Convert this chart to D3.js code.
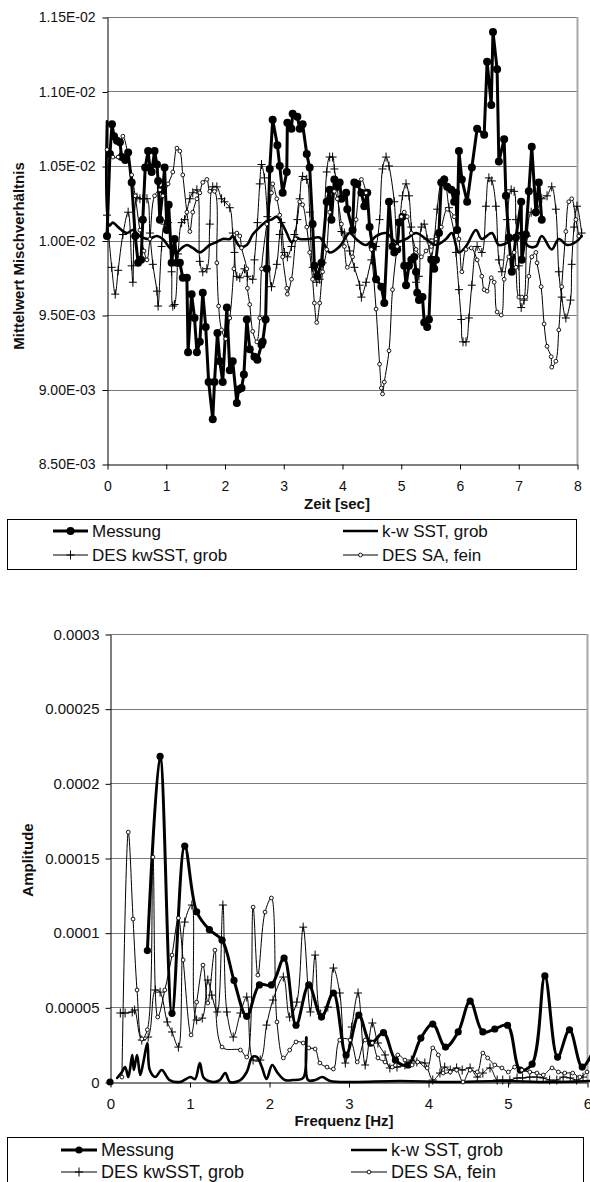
<!DOCTYPE html>
<html><head><meta charset="utf-8">
<script src="https://cdn.jsdelivr.net/npm/d3@7"></script>
<style>
html,body{margin:0;padding:0;background:#fff;}
svg{display:block;}
</style></head><body>
<script>
// ===== TOP CHART DATA (time in s, mixing ratio in units of 1E-03) =====
const tMess = [0,0.05,0.085,0.12,0.17,0.22,0.25,0.31,0.36,0.42,0.48,0.53,0.58,0.61,0.65,0.70,0.73,0.76,0.81,0.85,0.87,0.90,0.95,0.98,1.02,1.05,1.10,1.15,1.19,1.24,1.29,1.36,1.38,1.44,1.49,1.53,1.58,1.63,1.68,1.73,1.80,1.83,1.88,1.92,1.97,2.04,2.09,2.14,2.21,2.24,2.29,2.33,2.38,2.43,2.51,2.56,2.63,2.65,2.70,2.72,2.77,2.82,2.90,2.94,2.99,3.06,3.07,3.14,3.16,3.24,3.28,3.33,3.40,3.45,3.50,3.53,3.58,3.65,3.74,3.79,3.82,3.87,3.92,3.96,3.99,4.07,4.09,4.18,4.21,4.26,4.33,4.38,4.43,4.47,4.52,4.58,4.67,4.72,4.80,4.86,4.89,4.94,4.97,5.03,5.06,5.09,5.14,5.18,5.23,5.26,5.28,5.31,5.37,5.40,5.45,5.48,5.52,5.57,5.60,5.65,5.69,5.74,5.79,5.86,5.91,5.94,5.96,5.99,6.04,6.13,6.21,6.30,6.42,6.47,6.54,6.57,6.64,6.67,6.76,6.79,6.84,6.89,6.96,7.05,7.06,7.13,7.18,7.23,7.30,7.35,7.40];
const vMess = [10.03,10.58,10.78,10.70,10.67,10.66,10.56,10.54,10.59,10.39,10.03,9.85,9.87,10.14,10.49,10.60,10.49,10.46,10.60,10.51,10.40,10.14,10.34,10.49,10.07,10.24,9.85,10.01,9.85,9.85,9.75,9.75,9.25,9.64,9.48,9.25,9.32,9.65,9.42,9.05,8.80,9.05,9.38,9.19,9.05,9.55,9.13,9.19,8.91,9.00,9.01,9.10,9.47,9.27,9.22,9.20,9.30,9.32,9.47,9.81,10.48,10.81,10.64,10.50,10.32,10.46,10.79,10.75,10.85,10.83,10.75,10.78,10.58,10.49,10.11,9.83,9.76,9.85,10.26,10.34,10.14,10.41,10.36,10.39,10.28,10.32,10.21,10.07,10.39,10.38,10.32,10.23,10.32,10.09,9.96,9.74,9.69,9.58,10.26,9.96,9.92,9.94,10.12,10.16,9.83,9.70,9.83,9.87,9.89,9.79,9.65,9.60,9.62,9.45,9.42,9.47,9.87,9.81,9.87,10.05,10.39,10.41,10.36,10.34,10.26,10.32,10.07,10.60,10.41,10.26,10.49,10.75,10.71,11.20,10.91,11.40,11.15,10.53,10.68,10.30,10.02,9.79,10.02,10.26,9.87,10.04,10.33,10.63,10.19,10.39,10.14];

const tKw = [0,0.04,0.10,0.19,0.34,0.44,0.56,0.70,0.85,0.95,1.07,1.19,1.27,1.36,1.46,1.58,1.66,1.75,1.87,1.97,2.09,2.14,2.26,2.38,2.48,2.60,2.72,2.80,2.89,2.97,3.06,3.14,3.23,3.28,3.45,3.62,3.79,3.96,4.13,4.24,4.41,4.58,4.75,4.92,5.09,5.26,5.43,5.60,5.77,5.87,5.99,6.11,6.28,6.38,6.55,6.67,6.84,7.01,7.18,7.30,7.40,7.57,7.69,7.83,7.98,8.08];
const vKw = [10.80,10.10,10.12,10.09,10.05,10.07,10.03,10.01,10.03,10.01,9.95,9.92,9.95,9.97,9.95,9.92,9.94,9.97,9.99,10.01,10.01,10.03,9.96,9.97,10.04,10.09,10.13,10.14,10.16,10.12,10.05,9.99,10.02,10.01,10.01,10.02,9.92,9.96,10.05,10.01,9.97,10.03,10.05,9.99,10.01,10.05,10.01,9.97,10.01,10.05,9.92,9.96,10.07,10.01,10.05,9.97,9.99,10.05,9.96,9.96,10.03,9.94,10.01,9.97,9.99,10.03];

const tDesKw = [0.00,0.08,0.14,0.19,0.27,0.36,0.42,0.44,0.51,0.56,0.61,0.68,0.73,0.78,0.85,0.87,0.93,0.98,1.04,1.10,1.12,1.15,1.21,1.27,1.32,1.41,1.46,1.53,1.58,1.63,1.70,1.75,1.80,1.87,1.95,2.00,2.09,2.14,2.17,2.21,2.26,2.34,2.39,2.48,2.51,2.56,2.60,2.63,2.68,2.73,2.80,2.89,2.94,2.97,3.02,3.07,3.14,3.19,3.24,3.28,3.33,3.40,3.45,3.50,3.57,3.62,3.67,3.74,3.79,3.84,3.87,3.92,3.99,4.04,4.13,4.21,4.30,4.33,4.41,4.50,4.58,4.64,4.69,4.75,4.80,4.89,4.94,5.03,5.09,5.14,5.18,5.23,5.26,5.31,5.35,5.40,5.45,5.52,5.57,5.62,5.69,5.74,5.82,5.91,5.94,5.99,6.03,6.06,6.11,6.16,6.21,6.30,6.38,6.45,6.50,6.55,6.62,6.67,6.72,6.81,6.88,6.93,6.96,7.01,7.05,7.10,7.15,7.22,7.30,7.40,7.49,7.57,7.64,7.69,7.74,7.81,7.89,7.91,7.95,8.00,8.08];
const vDesKw = [10.17,9.82,9.64,9.80,10.04,10.19,9.83,9.72,10.29,10.28,10.28,10.28,10.05,9.84,9.66,9.56,9.96,10.11,10.12,9.79,9.56,9.57,9.91,10.12,10.14,10.28,10.32,10.34,9.86,9.79,9.81,10.11,10.36,10.36,10.28,10.26,10.22,10.05,9.92,9.76,9.75,9.81,9.76,9.74,9.87,10.12,10.38,10.51,10.42,10.16,9.69,9.84,10.04,10.12,9.92,9.89,9.96,10.04,10.14,10.28,10.43,10.41,10.19,9.82,9.72,9.74,9.85,10.46,10.56,10.56,10.48,10.36,10.06,10.05,9.93,9.82,9.70,9.62,9.72,9.87,9.96,10.14,10.48,10.56,10.50,10.26,9.96,10.30,10.38,10.30,10.09,9.89,9.72,9.76,10.09,10.11,10.01,9.89,10.01,10.21,10.39,10.41,10.22,10.05,9.92,9.67,9.47,9.32,9.32,9.48,9.70,9.96,9.92,10.23,10.42,10.40,10.23,9.87,9.79,10.14,10.34,10.33,10.14,9.83,9.55,9.60,10.03,10.19,10.19,10.28,10.30,10.36,10.21,9.79,9.62,9.48,9.60,9.84,10.09,10.23,10.05];

const tDesSa = [0.00,0.10,0.19,0.27,0.42,0.48,0.56,0.63,0.68,0.73,0.81,0.90,0.95,1.04,1.12,1.19,1.24,1.29,1.36,1.41,1.46,1.53,1.58,1.63,1.70,1.75,1.83,1.87,1.90,1.95,2.02,2.09,2.16,2.21,2.26,2.29,2.38,2.39,2.43,2.48,2.55,2.60,2.63,2.72,2.80,2.82,2.89,2.94,2.99,3.06,3.07,3.14,3.21,3.28,3.33,3.40,3.45,3.50,3.53,3.57,3.62,3.67,3.74,3.79,3.87,3.92,3.99,4.04,4.09,4.18,4.24,4.33,4.41,4.50,4.58,4.64,4.67,4.69,4.72,4.80,4.86,4.94,5.01,5.06,5.11,5.18,5.26,5.35,5.43,5.52,5.60,5.69,5.79,5.91,5.99,6.04,6.11,6.20,6.30,6.38,6.42,6.47,6.54,6.59,6.64,6.71,6.76,6.84,6.93,6.96,7.01,7.06,7.13,7.18,7.23,7.30,7.32,7.39,7.44,7.49,7.56,7.57,7.64,7.69,7.74,7.81,7.86,7.91,7.98,8.03];
const vDesSa = [10.61,10.56,10.56,10.70,10.44,10.30,10.07,9.93,9.87,10.01,10.30,10.34,10.30,10.38,10.46,10.62,10.60,10.44,10.19,10.06,10.19,10.28,10.32,10.39,10.41,10.33,10.33,9.85,9.56,9.40,9.34,9.48,9.81,10.05,10.03,9.95,9.81,9.68,9.57,9.39,9.32,9.48,9.81,10.11,10.32,10.38,10.28,10.17,9.89,9.68,9.64,9.74,10.01,10.26,10.24,10.09,9.92,9.74,9.58,9.45,9.58,9.79,9.94,10.19,10.33,10.28,10.11,9.96,9.82,9.89,10.14,10.41,10.32,9.94,9.54,9.17,9.01,8.97,9.05,9.26,9.67,9.96,10.16,10.19,10.16,10.05,9.94,9.89,9.93,9.96,10.01,10.09,10.21,10.16,10.01,9.79,9.94,9.95,9.87,9.76,9.67,9.66,9.75,9.72,9.52,9.50,9.74,9.89,9.92,9.82,9.62,9.62,9.62,9.76,9.89,9.92,9.85,9.69,9.44,9.29,9.22,9.15,9.19,9.40,9.69,10.06,10.26,10.28,10.14,10.03];

const topYTicks = [8.5,9.0,9.5,10.0,10.5,11.0,11.5];
const topYLabels = ["8.50E-03","9.00E-03","9.50E-03","1.00E-02","1.05E-02","1.10E-02","1.15E-02"];
const topXTicks = [0,1,2,3,4,5,6,7,8];
const topXLabels = ["0","1","2","3","4","5","6","7","8"];

// ===== BOTTOM CHART DATA (frequency in Hz, amplitude in units of 1E-05) =====
const fMess = [0,0.16,0.31,0.47,0.63,0.78,0.94,1.09,1.25,1.41,1.56,1.72,1.88,2.03,2.19,2.34,2.50,2.66,2.81,2.97,3.13,3.28,3.44,3.59,3.75,3.91,4.06,4.22,4.38,4.53,4.69,4.84,5.00,5.16,5.31,5.47,5.63,5.78,5.94,6.09];
const aMess = [0,null,null,8.8,21.8,4.6,15.8,11.4,10.2,9.5,6.8,4.4,6.5,6.5,8.3,3.8,6.5,4.35,5.96,1.8,4.48,2.6,3.3,1.47,1.14,2.94,3.88,2.34,3.35,5.42,3.35,3.55,3.8,0.8,1.2,7.1,1.67,3.5,1.0,2.2];

const fKw = [0.09,0.15,0.19,0.23,0.25,0.28,0.30,0.34,0.38,0.42,0.47,0.50,0.57,0.65,0.75,0.88,1.01,1.07,1.13,1.18,1.30,1.38,1.45,1.51,1.64,1.72,1.79,1.85,1.91,1.97,2.04,2.11,2.20,2.30,2.43,2.47,2.49,2.58,2.67,2.77,3.04,3.65,4.28,4.91,5.53,6.04];
const aKw = [0.27,0.67,1.0,0.33,0.80,1.81,0.80,1.81,0.47,1.34,2.61,0.80,0.33,0.80,0.13,0,0.33,0.20,1.27,0.27,0,0.13,0.60,0,0.13,0.67,1.67,1.67,1.0,0.20,1.14,0.60,0.13,0.13,0.27,3.0,0.13,0.13,0.33,0.07,0,0.07,0,0.07,0,0.07];

const fDesKw = [0.13,0.19,0.28,0.31,0.40,0.48,0.57,0.63,0.72,0.78,0.86,0.94,1.03,1.09,1.16,1.23,1.28,1.35,1.42,1.47,1.55,1.64,1.72,1.80,1.89,1.97,2.05,2.18,2.26,2.35,2.43,2.52,2.58,2.65,2.74,2.81,2.89,2.96,3.04,3.12,3.21,3.30,3.37,3.46,3.52,3.61,3.71,3.79,3.86,3.96,4.06,4.15,4.21,4.28,4.36,4.43,4.53,4.62,4.69,4.78,4.87,4.94,5.03,5.12,5.19,5.28,5.37,5.45,5.53,5.62,5.70,5.79,5.87,5.95];
const aDesKw = [4.62,4.62,4.69,4.82,2.81,3.01,6.16,6.02,4.02,3.35,2.34,10.71,11.85,4.15,4.28,6.83,5.82,4.69,11.85,4.69,3.01,4.62,5.69,1.47,1.47,3.81,5.49,7.03,4.35,5.35,10.37,4.69,8.50,4.55,5.02,7.63,5.96,1.27,3.68,5.96,1.14,3.95,2.61,1.81,0.94,1.0,1.14,1.47,1.34,1.27,0.13,0.60,1.0,0.80,0.94,0.80,0.94,0.33,0.60,0.94,0.13,0.13,0.13,0.27,0.27,0.33,0.33,0.27,0.13,0.13,0.33,0.27,0.13,0.33];

const fDesSa = [0.15,0.23,0.29,0.34,0.40,0.47,0.54,0.60,0.69,0.78,0.86,0.92,1.02,1.09,1.17,1.23,1.32,1.41,1.64,1.72,1.80,1.86,1.95,2.03,2.10,2.18,2.26,2.34,2.43,2.50,2.58,2.64,2.73,2.81,2.89,3.02,3.11,3.21,3.30,3.37,3.46,3.55,3.62,3.71,3.80,3.87,3.99,4.06,4.13,4.19,4.28,4.36,4.44,4.53,4.62,4.69,4.75,4.84,4.93,5.01,5.09,5.18,5.28,5.37,5.45,5.56,5.64,5.72,5.82,5.91,6.00];
const aDesSa = [0.33,16.73,10.91,6.16,2.88,3.5,15.06,4.35,6.16,8.5,10.98,8.17,3.15,5.35,7.83,5.29,8.83,2.34,2.14,1.67,11.71,7.16,11.38,12.32,4.02,1.61,2.14,2.68,2.61,2.28,2.21,1.27,1.00,0.87,2.81,2.81,1.34,2.81,2.61,1.61,1.34,1.00,1.81,1.47,1.14,1.34,0.94,2.28,1.81,0.60,0.67,0.80,0,0.80,0.67,1.94,1.61,1.14,0.94,0.67,1.00,0.80,0.67,0.60,0.47,0.94,0.67,0.60,0.60,0.33,0.67];

const botYTicks = [0,5,10,15,20,25,30];
const botYLabels = ["0","0.00005","0.0001","0.00015","0.0002","0.00025","0.0003"];
const botXTicks = [0,1,2,3,4,5,6];
const botXLabels = ["0","1","2","3","4","5","6"];

const seriesNames = ["Messung","k-w SST, grob","DES kwSST, grob","DES SA, fein"];

// ===== DRAWING =====
const FONT = "'Liberation Sans', Arial, Helvetica, sans-serif";
const svg = d3.select("body").append("svg")
  .attr("width", 590).attr("height", 1182)
  .style("font-family", FONT);

function zip(a, b) { return a.map((v, i) => ({x: v, y: b[i]})); }

const styles = {
  messung: {w: 3, marker: "dot"},
  kw: {w: 2.6, marker: null},
  deskw: {w: 1, marker: "plus"},
  dessa: {w: 1, marker: "ring"}
};

function drawMarker(sel, type, r) {
  if (type === "dot") {
    sel.append("circle").attr("r", r).attr("fill", "#000");
  } else if (type === "plus") {
    sel.append("path").attr("d", "M-4,0H4M0,-4.5V4.5").attr("stroke", "#000").attr("stroke-width", 1).attr("fill", "none");
  } else if (type === "ring") {
    sel.append("circle").attr("r", 1.9).attr("fill", "#fff").attr("stroke", "#000").attr("stroke-width", 0.9);
  }
}

function drawChart(c) {
  const x = d3.scaleLinear().domain(c.xDomain).range(c.xRange);
  const y = d3.scaleLinear().domain(c.yDomain).range(c.yRange);
  const g = svg.append("g");

  // gridlines
  g.append("g").selectAll("line").data(c.yTicks.slice(1)).join("line")
    .attr("x1", c.xRange[0]).attr("x2", c.xRange[1])
    .attr("y1", d => Math.round(y(d)) + 0.5).attr("y2", d => Math.round(y(d)) + 0.5)
    .attr("stroke", "#7a7a7a").attr("stroke-width", 1);
  // right border of plot area
  g.append("line")
    .attr("x1", c.xRange[1] + 0.5).attr("x2", c.xRange[1] + 0.5)
    .attr("y1", c.yRange[1]).attr("y2", c.yRange[0])
    .attr("stroke", "#a8a8a8").attr("stroke-width", 2);

  // axes
  const yAxis = d3.axisLeft(y).tickValues(c.yTicks)
    .tickFormat((d, i) => c.yLabels[i]).tickSize(5).tickSizeOuter(0).tickPadding(c.yPad);
  const ya = g.append("g").attr("transform", `translate(${c.xRange[0] + 0.5},0.5)`).call(yAxis);
  const xAxis = d3.axisBottom(x).tickValues(c.xTicks)
    .tickFormat((d, i) => c.xLabels[i]).tickSize(5).tickSizeOuter(0).tickPadding(c.xPad);
  const xa = g.append("g").attr("transform", `translate(0.5,${c.yRange[0] + 0.5})`).call(xAxis);
  [ya, xa].forEach(a => {
    a.select(".domain").attr("stroke", "#000").attr("stroke-width", 1);
    a.selectAll(".tick line").attr("stroke", "#000");
    a.selectAll(".tick text").attr("fill", "#111").style("font-size", c.tickFont + "px").style("font-family", FONT);
  });
  ya.selectAll(".tick text").attr("x", -(5 + c.yPad));

  // series lines
  const plotG = g.append("g");
  c.series.forEach(s => {
    const st = styles[s.style];
    const data = zip(s.x, s.y);
    const line = d3.line()
      .defined(d => d.y !== null && d.y !== undefined)
      .x(d => x(d.x)).y(d => y(d.y))
      .curve(s.curve === "linear" ? d3.curveLinear : d3.curveCatmullRom.alpha(0.5));
    plotG.append("path").datum(data)
      .attr("d", line).attr("fill", "none")
      .attr("stroke", "#000").attr("stroke-width", st.w)
      .attr("stroke-linejoin", "round").attr("stroke-linecap", "round");
    if (st.marker) {
      const mg = plotG.append("g");
      data.filter(d => d.y !== null && d.y !== undefined).forEach(d => {
        const m = mg.append("g").attr("transform", `translate(${x(d.x)},${y(d.y)})`);
        drawMarker(m, st.marker, c.dotR);
      });
    }
  });

  // axis titles
  g.append("text").attr("x", c.xTitlePos[0]).attr("y", c.xTitlePos[1])
    .attr("text-anchor", "middle").style("font-weight", "bold")
    .style("font-size", c.titleFont + "px").attr("fill", "#111").text(c.xTitle);
  g.append("text")
    .attr("transform", `translate(${c.yTitlePos[0]},${c.yTitlePos[1]}) rotate(-90)`)
    .attr("text-anchor", "middle").style("font-weight", "bold")
    .style("font-size", c.titleFont + "px").attr("fill", "#111").text(c.yTitle);

  // legend
  const L = c.legend;
  g.append("rect").attr("x", L.x + 0.5).attr("y", L.y + 0.5).attr("width", L.w).attr("height", L.h)
    .attr("fill", "#fff").attr("stroke", "#000").attr("stroke-width", 1);
  const order = ["messung", "kw", "deskw", "dessa"];
  order.forEach((k, i) => {
    const col = i % 2, row = Math.floor(i / 2);
    const sx = L.colX[col], sy = L.rowY[row];
    const st = styles[k];
    g.append("line").attr("x1", sx).attr("x2", sx + L.symW).attr("y1", sy).attr("y2", sy)
      .attr("stroke", "#000").attr("stroke-width", st.w);
    if (st.marker) {
      const m = g.append("g").attr("transform", `translate(${sx + L.symW / 2},${sy})`);
      drawMarker(m, st.marker, c.dotR);
    }
    g.append("text").attr("x", sx + L.symW + 4).attr("y", sy + L.font * 0.36)
      .style("font-size", L.font + "px").attr("fill", "#111").text(seriesNames[i]);
  });
}

// top chart
drawChart({
  xDomain: [0, 8], xRange: [107, 577],
  yDomain: [8.5, 11.5], yRange: [464, 17],
  yTicks: topYTicks, yLabels: topYLabels,
  xTicks: topXTicks, xLabels: topXLabels,
  yPad: 7, xPad: 12, tickFont: 14, titleFont: 15, dotR: 4,
  xTitle: "Zeit [sec]", xTitlePos: [337, 509],
  yTitle: "Mittelwert Mischverhältnis", yTitlePos: [24, 256],
  series: [
    {x: tMess, y: vMess, style: "messung", curve: "linear"},
    {x: tKw, y: vKw, style: "kw"},
    {x: tDesKw, y: vDesKw, style: "deskw"},
    {x: tDesSa, y: vDesSa, style: "dessa"}
  ],
  legend: {x: 7, y: 519, w: 569, h: 50, colX: [53, 343], rowY: [531, 555], symW: 35, font: 17}
});

// bottom chart
drawChart({
  xDomain: [0, 6], xRange: [110, 587],
  yDomain: [0, 30], yRange: [1082, 634],
  yTicks: botYTicks, yLabels: botYLabels,
  xTicks: botXTicks, xLabels: botXLabels,
  yPad: 6, xPad: 11, tickFont: 15, titleFont: 15, dotR: 3.6,
  xTitle: "Frequenz [Hz]", xTitlePos: [344, 1126],
  yTitle: "Amplitude", yTitlePos: [33, 860],
  series: [
    {x: fMess, y: aMess, style: "messung"},
    {x: fKw, y: aKw, style: "kw"},
    {x: fDesKw, y: aDesKw, style: "deskw"},
    {x: fDesSa, y: aDesSa, style: "dessa"}
  ],
  legend: {x: 7, y: 1137, w: 576, h: 60, colX: [61, 351], rowY: [1150, 1172], symW: 36, font: 18}
});
</script>
</body></html>
